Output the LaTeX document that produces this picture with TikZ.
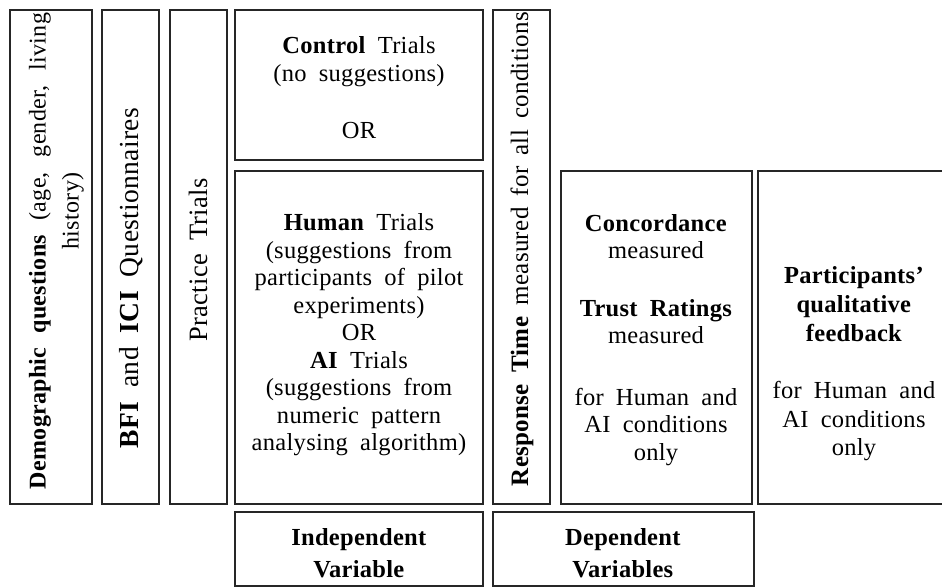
\documentclass[tikz,border=0pt]{standalone}
\usepackage{fontspec}
\setmainfont{Liberation Serif}[WordSpace=1.9, LetterSpace=1.2]
\usetikzlibrary{fit}
\begin{document}
\begin{tikzpicture}[x=1pt,y=-1pt,
  boxst/.style={draw=black!85, line width=1.6pt, inner sep=0pt},
  txt/.style={font=\fontsize{24.5}{27.5}\selectfont, align=center, inner sep=0pt, text=black},
  rtxt/.style={txt, rotate=90, font=\fontsize{#1}{33}\selectfont}]
\useasboundingbox (0,0) rectangle (942,588);
\clip (0,0) rectangle (942,588);
% boxes
\node[boxst, fit={(10,10) (92,504)}] (demo) {};
\node[boxst, fit={(102,10) (159,504)}] (bfi) {};
\node[boxst, fit={(170,10) (227,504)}] (prac) {};
\node[boxst, fit={(235,10) (483,160)}] (ctrl) {};
\node[boxst, fit={(235,171) (483,504)}] (hum) {};
\node[boxst, fit={(493,10) (550,504)}] (resp) {};
\node[boxst, fit={(561,171) (752,504)}] (conc) {};
\node[boxst, fit={(758,171) (954,504)}] (part) {};
\node[boxst, fit={(235,512) (483,586)}] (indep) {};
\node[boxst, fit={(493,512) (754,586)}] (dep) {};
% texts
\node[rtxt=24] (demoA) at (40,251) {\makebox[476pt][s]{\textbf{Demographic questions} (age, gender, living}};
\node[rtxt=24] (demoB) at (73,211) {history)};
\node[rtxt=27.5] (bfiT) at (131,278) {\textbf{BFI} and \textbf{ICI} Questionnaires};
\node[rtxt=26.5] (pracT) at (198,260) {Practice Trials};
\node[rtxt=25] (respT) at (522,249) {\makebox[474pt][s]{\textbf{Response Time} measured for all conditions}};
\node[txt] (ctrlT) at (359,88) {\textbf{Control} Trials\\(no suggestions)\\[30pt]OR};
\node[txt] (humT) at (359,335) {\textbf{Human} Trials\\(suggestions from\\participants of pilot\\experiments)\\OR\\\textbf{AI} Trials\\(suggestions from\\numeric pattern\\analysing algorithm)};
\node[txt] (concT) at (656,340) {\textbf{Concordance}\\measured\\[30pt]\textbf{Trust Ratings}\\measured\\[34pt]for Human and\\AI conditions\\only};
\node[txt, font=\fontsize{24.5}{28.8}\selectfont] (partT) at (854,364) {\textbf{Participants’}\\\textbf{qualitative}\\\textbf{feedback}\\[28pt]for Human and\\AI conditions\\only};
\node[txt] (indepT) at (359,553) {\textbf{Independent}\\[4pt]\textbf{Variable}};
\node[txt] (depT) at (623,553) {\textbf{Dependent}\\[4pt]\textbf{Variables}};
\end{tikzpicture}
\end{document}
